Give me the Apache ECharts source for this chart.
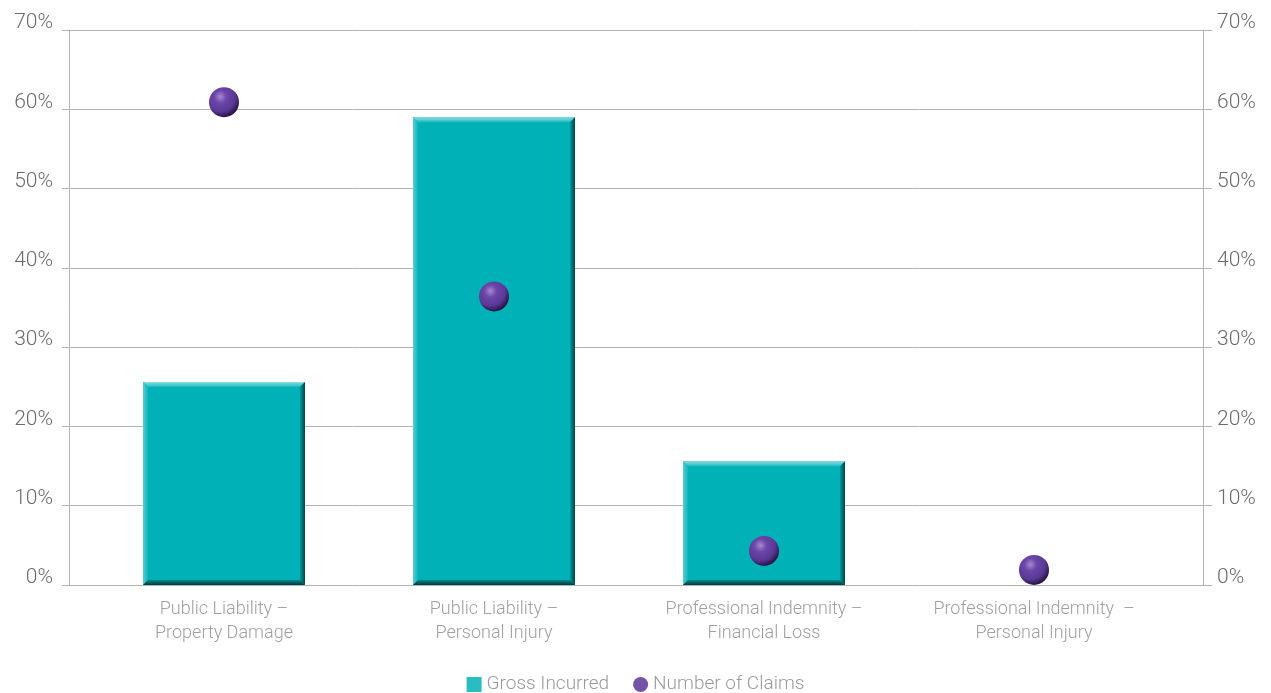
<!DOCTYPE html>
<html>
<head>
<meta charset="utf-8">
<script src="https://cdn.jsdelivr.net/npm/echarts@6/dist/echarts.min.js"></script>
<style>html,body{margin:0;padding:0;background:#fff}#c{width:1271px;height:693px}</style>
</head>
<body>
<div id="c"></div>
<script>
var categories = ['Public Liability –\nProperty Damage', 'Public Liability –\nPersonal Injury', 'Professional Indemnity –\nFinancial Loss', 'Professional Indemnity  –\nPersonal Injury'];
var grossIncurred = [25.6, 59.0, 15.6, 0];
var numberOfClaims = [60.9, 36.4, 4.3, 1.9];
var seriesNames = ['Gross Incurred', 'Number of Claims'];

var chart = echarts.init(document.getElementById('c'), null, {renderer: 'canvas'});
var font = 'Roboto';
var G = echarts.graphic;
function axisLabelStyle(margin) {
  return {color: '#6b6b6b', fontSize: 21, fontFamily: font, fontWeight: 300, formatter: '{value}%',
          verticalAlign: 'bottom', lineHeight: 14, margin: margin};
}
function renderBevelBar(params, api) {
  var top = api.coord([api.value(0), api.value(1)]);
  var base = api.coord([api.value(0), 0]);
  var w = api.size([1, 0])[0] * 0.6;
  var l = top[0] - w / 2, r = top[0] + w / 2, t = top[1], b = base[1];
  if (b - t < 1) return null;
  var e = Math.min(5, (b - t) / 2);
  return {
    type: 'group',
    children: [
      {type: 'rect', shape: {x: l, y: t, width: w, height: b - t}, style: {fill: '#00b2b8'}},
      {type: 'polygon', shape: {points: [[l, t], [r, t], [r - e, t + e], [l + e, t + e]]},
       style: {fill: new G.LinearGradient(0, 0, 0, 1, [{offset: 0, color: '#8fdcdf'}, {offset: 1, color: '#1cbac0'}])}},
      {type: 'polygon', shape: {points: [[l, t], [l + e, t + e], [l + e, b - e], [l, b]]},
       style: {fill: new G.LinearGradient(0, 0, 1, 0, [{offset: 0, color: '#5ccdd1'}, {offset: 1, color: '#0cb5bb'}])}},
      {type: 'polygon', shape: {points: [[r, t], [r, b], [r - e, b - e], [r - e, t + e]]},
       style: {fill: new G.LinearGradient(0, 0, 1, 0, [{offset: 0, color: '#00999e'}, {offset: 1, color: '#004447'}])}},
      {type: 'polygon', shape: {points: [[l, b], [r, b], [r - e, b - e], [l + e, b - e]]},
       style: {fill: new G.LinearGradient(0, 0, 0, 1, [{offset: 0, color: '#008a8e'}, {offset: 1, color: '#00393c'}])}}
    ]
  };
}
chart.setOption({
  animation: false,
  backgroundColor: '#fff',
  grid: [
    {left: 69, right: 68, top: 30, bottom: 108},
    {left: 89, right: 102, top: 30, bottom: 108}
  ],
  legend: {
    top: 670, left: 'center', itemWidth: 15, itemHeight: 15, itemGap: 24,
    textStyle: {color: '#9a9a9a', fontSize: 19, fontFamily: font, fontWeight: 300},
    data: [
      {name: seriesNames[0], icon: 'rect', itemStyle: {color: '#2bbcc1'}},
      {name: seriesNames[1], icon: 'circle', itemStyle: {color: '#7453a8'}}
    ]
  },
  xAxis: [
    {type: 'value', gridIndex: 0, show: false, min: 0, max: 1},
    {type: 'category', gridIndex: 1, data: categories,
     axisLine: {show: false}, axisTick: {show: false}, splitLine: {show: false},
     axisLabel: {color: '#a0a0a0', fontSize: 18, fontFamily: font, fontWeight: 300, lineHeight: 24, margin: 12, interval: 0}}
  ],
  yAxis: [
    {type: 'value', gridIndex: 0, min: 0, max: 70, interval: 10, position: 'left',
     axisLine: {show: true, lineStyle: {color: '#b4b4b4'}},
     axisTick: {show: true, length: 7, lineStyle: {color: '#b4b4b4'}},
     splitLine: {show: true, lineStyle: {color: '#b4b4b4', width: 1}},
     axisLabel: axisLabelStyle(16)},
    {type: 'value', gridIndex: 0, min: 0, max: 70, interval: 10, position: 'right',
     axisLine: {show: true, lineStyle: {color: '#b4b4b4'}},
     axisTick: {show: true, length: 9, lineStyle: {color: '#b4b4b4'}},
     splitLine: {show: false},
     axisLabel: axisLabelStyle(14)},
    {type: 'value', gridIndex: 1, min: 0, max: 70, interval: 10, show: false, splitLine: {show: false}}
  ],
  series: [
    {name: seriesNames[0], type: 'custom', xAxisIndex: 1, yAxisIndex: 2,
     data: grossIncurred.map(function (v, i) { return [i, v]; }),
     encode: {x: 0, y: 1}, renderItem: renderBevelBar, itemStyle: {color: '#2bbcc1'}},
    {name: seriesNames[1], type: 'scatter', xAxisIndex: 1, yAxisIndex: 2, data: numberOfClaims, symbolSize: 30, z: 5,
     itemStyle: {
       opacity: 1,
       color: new G.RadialGradient(0.38, 0.32, 0.7, [
         {offset: 0, color: '#a68ad2'}, {offset: 0.3, color: '#6c46a9'},
         {offset: 0.7, color: '#5a3896'}, {offset: 1, color: '#231340'}
       ])
     }}
  ]
});
</script>
</body>
</html>
